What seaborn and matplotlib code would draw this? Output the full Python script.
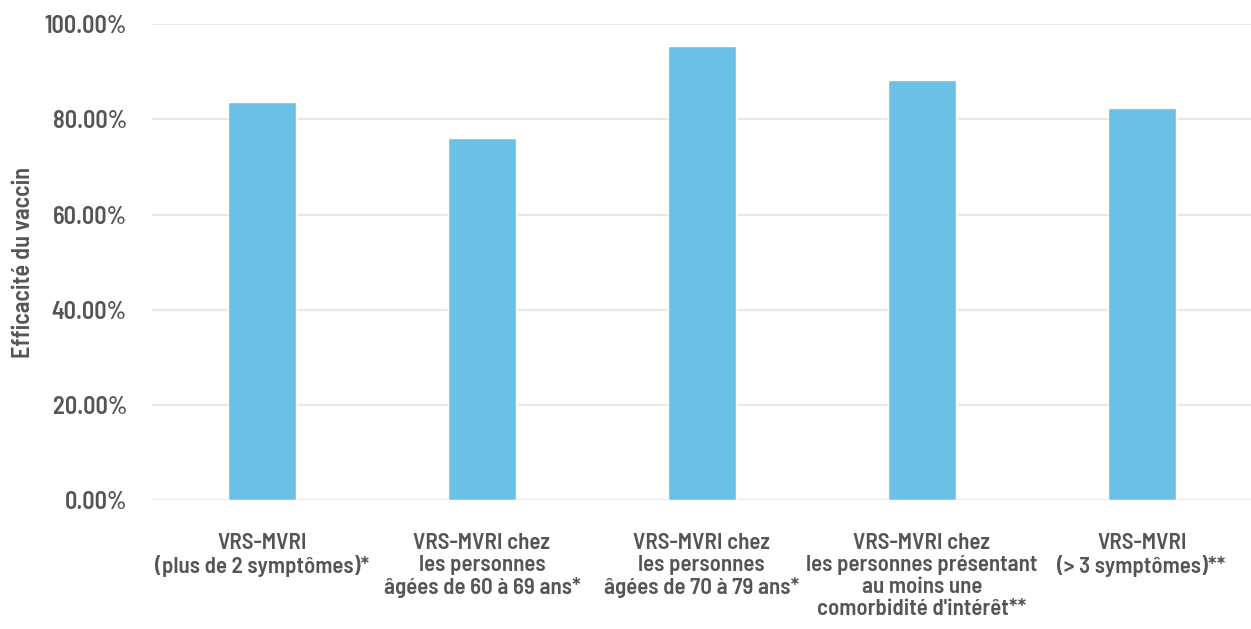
import matplotlib
matplotlib.use("Agg")
import matplotlib.pyplot as plt
from matplotlib.ticker import FuncFormatter
import seaborn as sns
import pandas as pd

categories = [
    "VRS-MVRI\n(plus de 2 symptômes)*",
    "VRS-MVRI chez\nles personnes\nâgées de 60 à 69 ans*",
    "VRS-MVRI chez\nles personnes\nâgées de 70 à 79 ans*",
    "VRS-MVRI chez\nles personnes présentant\nau moins une\ncomorbidité d'intérêt**",
    "VRS-MVRI\n(> 3 symptômes)**",
]
efficacy = [83.7, 76.0, 95.4, 88.3, 82.5]
y_ticks = [0, 20, 40, 60, 80, 100]
y_label = "Efficacité du vaccin"

df = pd.DataFrame({"cat": categories, "val": efficacy})

sns.set_theme(style="white")
plt.rcParams["font.family"] = ["Barlow Semi Condensed", "DejaVu Sans"]

text_color = "#555555"
grid_color = "#e8e8e8"
bar_color = "#6DC0E5"

fig = plt.figure(figsize=(12.51, 6.29), dpi=100)
ax = fig.add_axes([0.1215, 0.2051, 0.879, 0.7563])

sns.barplot(data=df, x="cat", y="val", color=bar_color, width=0.31,
            saturation=1, ax=ax, zorder=3)

ax.set_xlim(-0.5, len(categories) - 0.5)
ax.set_ylim(0, 100)
ax.set_yticks(y_ticks)
ax.yaxis.set_major_formatter(FuncFormatter(lambda v, _: f"{v:.2f}%"))

ax.grid(axis="y", color=grid_color, linewidth=1.6, zorder=0)
ax.grid(axis="x", visible=False)
for s in ax.spines.values():
    s.set_visible(False)
ax.axhline(0, color=grid_color, linewidth=1.8, zorder=2)

ax.tick_params(axis="y", length=0, pad=18, labelsize=17.5, labelcolor=text_color)
ax.tick_params(axis="x", length=0, pad=24, labelsize=16.5, labelcolor=text_color)
for lbl in ax.get_xticklabels():
    lbl.set_fontweight(600)
    lbl.set_linespacing(1.12)
    lbl.set_verticalalignment("top")
for lbl in ax.get_yticklabels():
    lbl.set_fontweight(600)

ax.set_xlabel("")
ax.set_ylabel(y_label, fontsize=17.5, fontweight=600, color=text_color, labelpad=7)

fig.savefig("out.png", dpi=100, facecolor="white")
